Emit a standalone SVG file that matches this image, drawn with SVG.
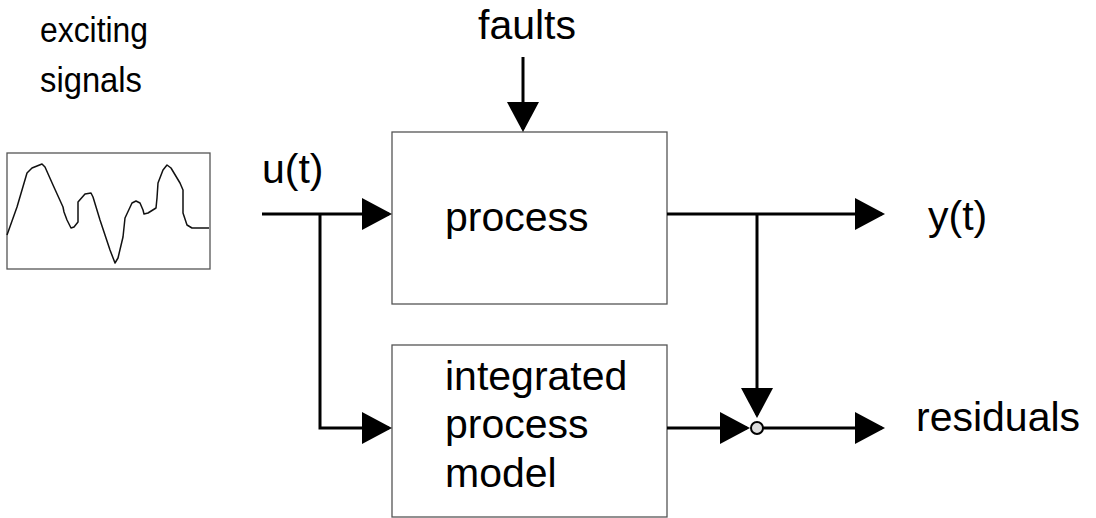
<svg xmlns="http://www.w3.org/2000/svg" width="1096" height="518" viewBox="0 0 1096 518">
<style>
.box{fill:#fff;stroke:#555;stroke-width:1.3}
.t{font-family:"Liberation Sans",Arial,sans-serif;font-size:41px;fill:#000}
.s{font-family:"Liberation Sans",Arial,sans-serif;font-size:35px;fill:#000}
.w{stroke:#000;stroke-width:3;fill:none}
.wave{stroke:#111;stroke-width:1.5;fill:none;stroke-linejoin:round}
</style>
<defs>
<marker id="ah" markerUnits="userSpaceOnUse" markerWidth="30" markerHeight="32" viewBox="0 0 30 32" refX="27" refY="16" orient="auto">
<path d="M0,0 L30,16 L0,32 Z" fill="#000"/>
</marker>
</defs>
<g id="exciting-signals">
<text class="s" x="40" y="42" textLength="108" lengthAdjust="spacingAndGlyphs">exciting</text>
<text class="s" x="40" y="92" textLength="102" lengthAdjust="spacingAndGlyphs">signals</text>
<rect class="box" x="7" y="153" width="203" height="116"/>
<path class="wave" d="M7,235 L17,207 L27,173 L32,168 L42,164 L45,167 L53,185 L63,207 L64,212 L67,220 L71,228 L74,227 L78,222 L78,202 L85,194 L91,193 L93,197 L100,220 L110,250 L115,263 L118,258 L123,237 L125,218 L132,203 L136,201 L140,203 L143,210 L144,214 L148,213 L156,208 L157,198 L158,183 L163,170 L167,165 L171,168 L180,183 L183,190 L183,213 L187,225 L192,228 L198,228 L209,228"/>
</g>
<g id="process">
<rect class="box" x="392" y="132" width="275" height="172"/>
<text class="t" x="445" y="231">process</text>
</g>
<g id="model">
<rect class="box" x="392" y="345" width="275" height="172"/>
<text class="t" x="445" y="390">integrated</text>
<text class="t" x="445" y="438">process</text>
<text class="t" x="445" y="487">model</text>
</g>
<g id="labels">
<text class="t" x="478" y="39">faults</text>
<text class="t" x="262" y="183">u(t)</text>
<text class="t" x="928" y="230">y(t)</text>
<text class="t" x="916" y="431">residuals</text>
</g>
<g id="connectors">
<path class="w" d="M262,214 H389" marker-end="url(#ah)"/>
<path class="w" d="M320,214 V428 H389" marker-end="url(#ah)"/>
<path class="w" d="M523,57 V129" marker-end="url(#ah)"/>
<path class="w" d="M667,214 H882" marker-end="url(#ah)"/>
<path class="w" d="M757,214 V415" marker-end="url(#ah)"/>
<path class="w" d="M667,428 H747" marker-end="url(#ah)"/>
<path class="w" d="M763,428 H882" marker-end="url(#ah)"/>
</g>
<g id="junction">
<circle cx="757" cy="428" r="6" fill="#ddd" stroke="#000" stroke-width="2"/>
</g>
</svg>
